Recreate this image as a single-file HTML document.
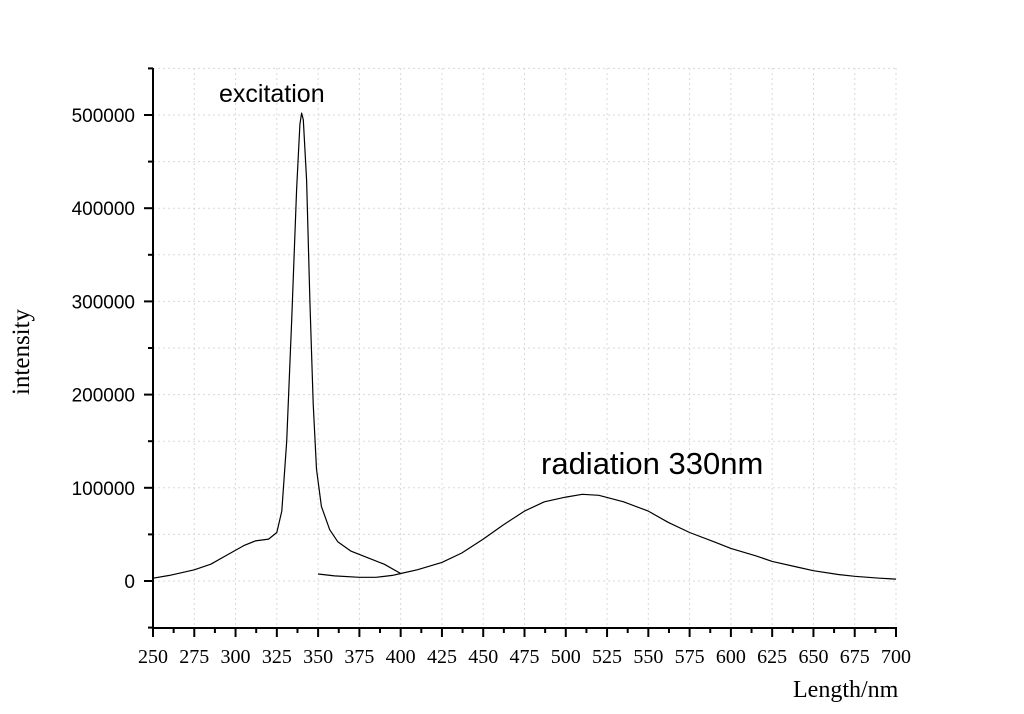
<!DOCTYPE html>
<html><head><meta charset="utf-8"><style>
html,body{margin:0;padding:0;background:#fff;}
svg{display:block;}
</style></head><body>
<svg id="chart" width="1024" height="714" viewBox="0 0 1024 714" xmlns="http://www.w3.org/2000/svg"></svg>
<script>
const xTicks=[250,275,300,325,350,375,400,425,450,475,500,525,550,575,600,625,650,675,700];
const yTicks=[0,100000,200000,300000,400000,500000];
const excitationX=[250,260,275,285,295,305,312,320,325,328,331,334,337,339,340,341,343,345,347,349,352,357,362,370,380,390,400];
const excitationY=[3000,6000,12000,18000,28000,38000,43000,45000,52000,75000,150000,280000,420000,490000,502000,495000,430000,300000,190000,120000,80000,55000,42000,32000,25000,18000,8000];
const radiationX=[350,360,375,385,395,400,410,425,437,450,462,475,487,500,510,520,535,550,562,575,590,600,615,625,640,650,665,675,690,700];
const radiationY=[7500,5500,4000,4000,6000,8000,12000,20000,30000,45000,60000,75000,85000,90000,93000,92000,85000,75000,63000,52000,42000,35000,27000,21000,15000,11000,7000,5000,3000,2000];
const NS="http://www.w3.org/2000/svg";
const svg=document.getElementById('chart');
const X=v=>153+(v-250)*(743/450);
const Y=v=>581-v*(466/500000);
function mk(t,a,p){const e=document.createElementNS(NS,t);for(const k in a)e.setAttribute(k,a[k]);(p||svg).appendChild(e);return e;}
const grid=mk('g',{});


xTicks.slice(1).forEach(v=>mk('line',{x1:X(v),x2:X(v),y1:68,y2:628,stroke:'#d8d8d8','stroke-dasharray':'2,3'},grid));
for(let v=0;v<=550000;v+=50000){mk('line',{x1:153,x2:896,y1:Y(v),y2:Y(v),stroke:'#d8d8d8','stroke-dasharray':'2,3'},grid);}
const ax=mk('g',{stroke:'#000','stroke-width':2});


mk('line',{x1:153,x2:153,y1:68,y2:629},ax);
mk('line',{x1:152,x2:897,y1:628,y2:628},ax);
xTicks.forEach((v,i)=>{mk('line',{x1:X(v),x2:X(v),y1:628,y2:637},ax);if(i<xTicks.length-1)mk('line',{x1:X(v+12.5),x2:X(v+12.5),y1:628,y2:633},ax);
 const t=mk('text',{x:X(v),y:663,'text-anchor':'middle','font-family':'Liberation Serif, serif','font-size':20,fill:'#000',stroke:'none'});t.textContent=v;
 
 });
for(let v=-50000;v<=550000;v+=50000){const major=v%100000===0;mk('line',{x1:major?144:148,x2:153,y1:Y(v),y2:Y(v)},ax);}
yTicks.forEach(v=>{const t=mk('text',{x:135,y:Y(v)+7,'text-anchor':'end','font-family':'Liberation Sans, sans-serif','font-size':19,fill:'#000',stroke:'none'});t.textContent=v;
 
 });
function line(xs,ys,name){const d=xs.map((x,i)=>(i?'L':'M')+X(x).toFixed(1)+','+Y(ys[i]).toFixed(1)).join('');const p=mk('path',{d:d,fill:'none',stroke:'#000','stroke-width':1.2,'stroke-linejoin':'round'});
 
 }
line(excitationX,excitationY,'excitation-line');
line(radiationX,radiationY,'radiation-line');
function txt(s,a,name){const t=mk('text',a);t.textContent=s;
 
 }
txt('excitation',{x:219,y:102,'font-family':'Liberation Sans, sans-serif','font-size':25},'excitation-label');
txt('radiation 330nm',{x:541,y:474,'font-family':'Liberation Sans, sans-serif','font-size':31},'radiation-label');
txt('Length/nm',{x:793,y:697,'font-family':'Liberation Serif, serif','font-size':24},'x-axis-title');
txt('intensity',{x:0,y:0,'font-family':'Liberation Serif, serif','font-size':25,'text-anchor':'middle',transform:'translate(29,352) rotate(-90)'},'y-axis-title');
</script>
</body></html>
